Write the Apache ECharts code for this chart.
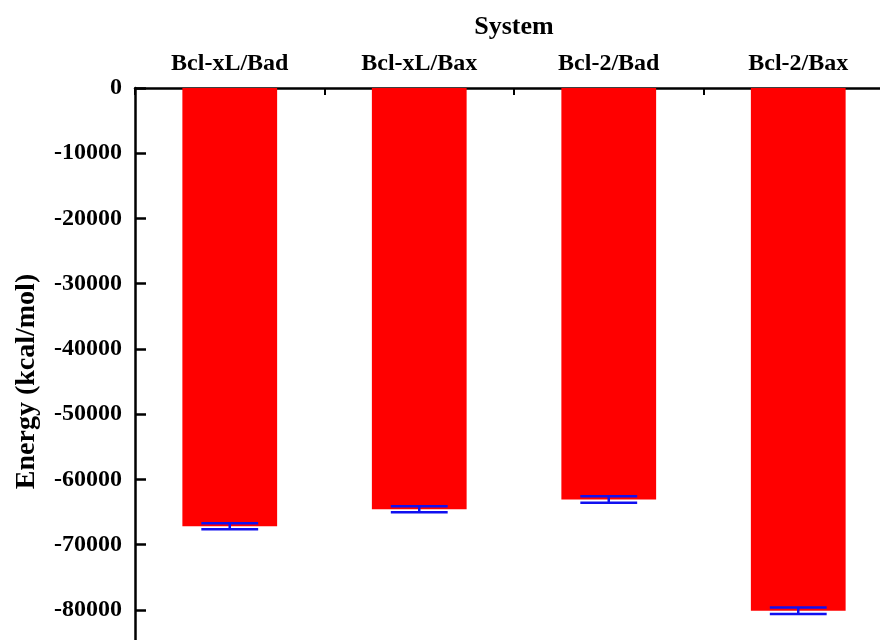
<!DOCTYPE html>
<html>
<head>
<meta charset="utf-8">
<script src="https://cdn.jsdelivr.net/npm/echarts@6/dist/echarts.min.js"></script>
<style>
  html, body { margin: 0; padding: 0; background: #ffffff; }
  #chart { width: 880px; height: 640px; }
</style>
</head>
<body>
<div id="chart"></div>
<script>
// Binding energies per complex, with standard errors
const systems = ['Bcl-xL/Bad', 'Bcl-xL/Bax', 'Bcl-2/Bad', 'Bcl-2/Bax'];
const energies = [-67200, -64600, -63100, -80150];
const errors = [460, 460, 500, 500];
const yTicks = { min: -90000, max: 0, step: 10000 };

const FONT = '"Liberation Serif", "Times New Roman", serif';

const chart = echarts.init(document.getElementById('chart'), null, { renderer: 'canvas' });

const errorData = energies.map((v, i) => [i, v, errors[i]]);

chart.setOption({
  backgroundColor: '#ffffff',
  animation: false,
  grid: {
    left: 135, top: 88, width: 758, height: 587,
    containLabel: false,
    outerBoundsMode: 'none'
  },
  xAxis: {
    type: 'category',
    position: 'top',
    data: systems,
    name: 'System',
    nameLocation: 'middle',
    nameGap: 48,
    nameTextStyle: { fontFamily: FONT, fontWeight: 'bold', fontSize: 26, color: '#000' },
    axisLine: { show: true, lineStyle: { color: '#000', width: 2.5 } },
    axisTick: { show: true, inside: true, length: 7, alignWithLabel: false, lineStyle: { color: '#000', width: 2 } },
    axisLabel: { fontFamily: FONT, fontWeight: 'bold', fontSize: 24, color: '#000', margin: 12 },
    splitLine: { show: false }
  },
  yAxis: {
    type: 'value',
    min: yTicks.min,
    max: yTicks.max,
    interval: yTicks.step,
    name: 'Energy (kcal/mol)',
    nameLocation: 'middle',
    nameRotate: 90,
    nameGap: 94,
    nameTextStyle: { fontFamily: FONT, fontWeight: 'bold', fontSize: 28, color: '#000' },
    axisLine: { show: true, lineStyle: { color: '#000', width: 2.5 } },
    axisTick: { show: true, inside: true, length: 11, lineStyle: { color: '#000', width: 2.5 } },
    axisLabel: {
      fontFamily: FONT, fontWeight: 'bold', fontSize: 24, color: '#000', margin: 13,
      padding: [3, 0, 0, 0],
      formatter: v => String(v)
    },
    splitLine: { show: false }
  },
  series: [
    {
      type: 'bar',
      data: energies,
      barWidth: '50%',
      itemStyle: { color: '#ff0000' },
      z: 2
    },
    {
      type: 'custom',
      data: errorData,
      z: 3,
      renderItem: function (params, api) {
        const idx = api.value(0);
        const val = api.value(1);
        const err = api.value(2);
        const hi = api.coord([idx, val + err]);
        const lo = api.coord([idx, val - err]);
        const half = api.size([1, 0])[0] * 0.15;
        const style = { stroke: '#1010f0', lineWidth: 2.5 };
        return {
          type: 'group',
          children: [
            { type: 'line', shape: { x1: hi[0], y1: hi[1], x2: lo[0], y2: lo[1] }, style: style },
            { type: 'line', shape: { x1: hi[0] - half, y1: hi[1], x2: hi[0] + half, y2: hi[1] }, style: style },
            { type: 'line', shape: { x1: lo[0] - half, y1: lo[1], x2: lo[0] + half, y2: lo[1] }, style: style }
          ]
        };
      }
    }
  ]
});
</script>
</body>
</html>
